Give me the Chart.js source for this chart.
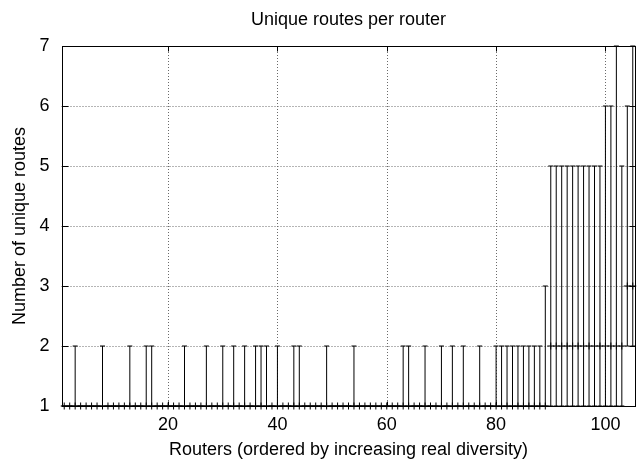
<!DOCTYPE html>
<html><head><meta charset="utf-8">
<script src="https://cdn.jsdelivr.net/npm/chart.js@4/dist/chart.umd.min.js"></script>
<style>html,body{margin:0;padding:0;overflow:hidden;background:#fff}canvas{display:block}</style>
</head><body>
<canvas id="c" width="640" height="461"></canvas>
<script>
const routers = [1,2,3,4,5,6,7,8,9,10,11,12,13,14,15,16,17,18,19,20,21,22,23,24,25,26,27,28,29,30,
  31,32,33,34,35,36,37,38,39,40,41,42,43,44,45,46,47,48,49,50,51,52,53,54,55,56,57,58,59,60,
  61,62,63,64,65,66,67,68,69,70,71,72,73,74,75,76,77,78,79,80,81,82,83,84,85,86,87,88,89,90,
  91,92,93,94,95,96,97,98,99,100,101,102,103,104,105];
// central value (plotted as "+")
const yPoint = [1,1,1,1,1,1,1,1,1,1, 1,1,1,1,1,1,1,1,1,1, 1,1,1,1,1,1,1,1,1,1,
  1,1,1,1,1,1,1,1,1,1, 1,1,1,1,1,1,1,1,1,1, 1,1,1,1,1,1,1,1,1,1,
  1,1,1,1,1,1,1,1,1,1, 1,1,1,1,1,1,1,1,1,1, 1,1,1,1,1,1,1,1,1,2,
  2,2,2,2,2,2,2,2,2,2, 2,2,2,3,3];
const yLow = [1,1,1,1,1,1,1,1,1,1, 1,1,1,1,1,1,1,1,1,1, 1,1,1,1,1,1,1,1,1,1,
  1,1,1,1,1,1,1,1,1,1, 1,1,1,1,1,1,1,1,1,1, 1,1,1,1,1,1,1,1,1,1,
  1,1,1,1,1,1,1,1,1,1, 1,1,1,1,1,1,1,1,1,1, 1,1,1,1,1,1,1,1,1,1,
  1,1,1,1,1,1,1,1,1,1, 1,1,1,2,2];
const yHigh = [1,1,2,1,1,1,1,2,1,1, 1,1,2,1,1,2,2,1,1,1, 1,1,2,1,1,1,2,1,1,2,
  1,2,1,2,1,2,2,2,1,2, 1,1,2,2,1,1,1,1,2,1, 1,1,1,2,1,1,1,1,1,1,
  1,1,2,2,1,1,2,1,1,2, 1,2,1,2,1,1,2,1,1,2, 2,2,2,2,2,2,2,2,3,5,
  5,5,5,5,5,5,5,5,5,6, 6,7,5,6,7];
const xTickValues = [20,40,60,80,100];
const yTickValues = [1,2,3,4,5,6,7];

const FONT = "'Liberation Sans', Arial, Helvetica, sans-serif";

const pts = routers.map((r, i) => ({x: r, y: yPoint[i]}));

const errorBarPlugin = {
  id: 'errbars',
  beforeDatasetsDraw(chart) {
    const {ctx, chartArea: a, scales: {x, y}} = chart;
    ctx.save();
    // grid
    ctx.strokeStyle = '#6a6a6a';
    ctx.lineWidth = 1;
    ctx.setLineDash([1, 2]);
    xTickValues.forEach(v => {
      const px = Math.round(x.getPixelForValue(v)) + 0.5;
      ctx.beginPath(); ctx.moveTo(px, a.top); ctx.lineTo(px, a.bottom); ctx.stroke();
    });
    yTickValues.forEach(v => {
      if (v === y.min || v === y.max) return;
      const py = Math.round(y.getPixelForValue(v)) + 0.5;
      ctx.beginPath(); ctx.moveTo(a.left, py); ctx.lineTo(a.right, py); ctx.stroke();
    });
    ctx.setLineDash([]);
    // error bars
    ctx.strokeStyle = '#000';
    const cap = 2.5;
    routers.forEach((r, i) => {
      const px = x.getPixelForValue(r);
      const pl = y.getPixelForValue(yLow[i]);
      const ph = y.getPixelForValue(yHigh[i]);
      ctx.beginPath();
      ctx.moveTo(px, pl); ctx.lineTo(px, ph);
      ctx.moveTo(px - cap, pl); ctx.lineTo(px + cap, pl);
      ctx.moveTo(px - cap, ph); ctx.lineTo(px + cap, ph);
      ctx.stroke();
    });
    ctx.restore();
  },
  afterDatasetsDraw(chart) {
    const {ctx, chartArea: a, scales: {x, y}} = chart;
    ctx.save();
    ctx.strokeStyle = '#000';
    ctx.lineWidth = 1;
    const L = Math.round(a.left) + 0.5, R = Math.round(a.right) - 0.5;
    const T = Math.round(a.top) + 0.5, B = Math.round(a.bottom) + 0.5;
    ctx.strokeRect(L, T, R - L, B - T);
    ctx.beginPath();
    yTickValues.forEach(v => {
      const py = Math.round(y.getPixelForValue(v)) + 0.5;
      ctx.moveTo(L, py); ctx.lineTo(L + 6, py);
      ctx.moveTo(R, py); ctx.lineTo(R - 6, py);
    });
    xTickValues.forEach(v => {
      const px = Math.round(x.getPixelForValue(v)) + 0.5;
      ctx.moveTo(px, B); ctx.lineTo(px, B - 5);
      ctx.moveTo(px, T); ctx.lineTo(px, T + 5);
    });
    ctx.stroke();
    ctx.restore();
  }
};

new Chart(document.getElementById('c'), {
  type: 'scatter',
  data: {
    datasets: [{
      data: pts,
      pointStyle: 'cross',
      pointRadius: 3.5,
      pointHoverRadius: 3.5,
      borderColor: '#000',
      backgroundColor: '#000',
      pointBorderWidth: 1,
      clip: false
    }]
  },
  options: {
    responsive: false,
    animation: false,
    devicePixelRatio: 1,
    layout: {padding: {left: 0, right: 1, top: 0, bottom: 0}},
    plugins: {
      legend: {display: false},
      tooltip: {enabled: false},
      title: {
        display: true,
        text: 'Unique routes per router',
        fullSize: false,
        color: '#000',
        font: {family: FONT, size: 18, weight: 'normal'},
        padding: {top: 9, bottom: 15.4}
      }
    },
    scales: {
      x: {
        type: 'linear',
        min: 0.5, max: 105.5,
        grid: {display: false, drawTicks: false, tickLength: 0},
        border: {display: false},
        afterBuildTicks: s => { s.ticks = xTickValues.map(v => ({value: v})); },
        afterFit: s => { s.height = 55; },
        ticks: {color: '#000', font: {family: FONT, size: 18}, padding: 8, maxRotation: 0,
                callback: v => String(v)},
        title: {display: true, text: 'Routers (ordered by increasing real diversity)', color: '#000',
                font: {family: FONT, size: 18}, padding: {top: 0, bottom: 0}}
      },
      y: {
        type: 'linear',
        min: 1, max: 7,
        grid: {display: false, drawTicks: false, tickLength: 0},
        border: {display: false},
        afterBuildTicks: s => { s.ticks = yTickValues.map(v => ({value: v})); },
        afterFit: s => { s.width = 61.5; },
        ticks: {color: '#000', font: {family: FONT, size: 18}, padding: 12,
                callback: v => String(v)},
        title: {display: true, text: 'Number of unique routes', color: '#000',
                font: {family: FONT, size: 18}, padding: {top: 9, bottom: 0}}
      }
    }
  },
  plugins: [errorBarPlugin]
});
</script>
</body></html>
